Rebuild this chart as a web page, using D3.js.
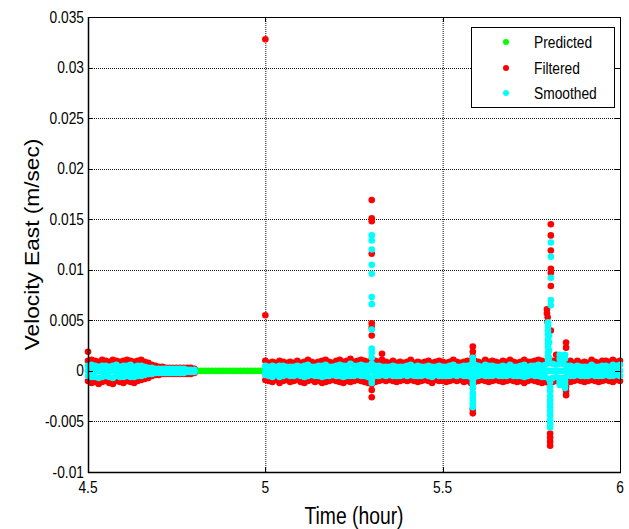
<!DOCTYPE html>
<html>
<head>
<meta charset="utf-8">
<script src="https://cdn.jsdelivr.net/npm/d3@7"></script>
<style>
  html, body { margin: 0; padding: 0; background: #fff; }
  svg { display: block; font-family: "Liberation Sans", Arial, sans-serif; }
</style>
</head>
<body>
<svg id="chart" width="629" height="529"></svg>
<script>
// ---------------- DATA ----------------
const xTicks = [4.5, 5, 5.5, 6];
const xTickLabels = ["4.5", "5", "5.5", "6"];
const yTicks = [-0.01, -0.005, 0, 0.005, 0.01, 0.015, 0.02, 0.025, 0.03, 0.035];
const yTickLabels = ["-0.01", "-0.005", "0", "0.005", "0.01", "0.015", "0.02", "0.025", "0.03", "0.035"];
const seriesNames = ["Predicted", "Filtered", "Smoothed"];
const seriesColors = ["#00ff00", "#ff0000", "#00ffff"];

// Predicted (only visible segment, 4.80 - 5.00 h)
const predTime = [4.80,4.81,4.82,4.83,4.84,4.85,4.86,4.87,4.88,4.89,4.90,4.91,4.92,4.93,4.94,4.95,4.96,4.97,4.98,4.99,5.00];
const predValue = [0,0,0,0,0,0,0,0,0,0,0,0,0,0,0,0,0,0,0,0,0];

// Segment A: 4.50 - 4.80 h
const timeA = [4.50,4.51,4.52,4.53,4.54,4.55,4.56,4.57,4.58,4.59,4.60,4.61,4.62,4.63,4.64,4.65,4.66,4.67,4.68,4.69,4.70,4.71,4.72,4.73,4.74,4.75,4.76,4.77,4.78,4.79,4.80];
const filtHiA = [0.0010,0.0011,0.0010,0.0009,0.0011,0.0010,0.0009,0.0011,0.0010,0.0009,0.0010,0.0011,0.0010,0.0009,0.0010,0.0011,0.0009,0.0008,0.0006,0.0005,0.0004,0.0004,0.0003,0.0003,0.0003,0.0003,0.0003,0.0003,0.0003,0.0003,0.0002];
const filtLoA = [-0.0010,-0.0012,-0.0011,-0.0013,-0.0011,-0.0010,-0.0012,-0.0013,-0.0010,-0.0011,-0.0012,-0.0010,-0.0011,-0.0012,-0.0010,-0.0009,-0.0008,-0.0007,-0.0005,-0.0004,-0.0004,-0.0003,-0.0003,-0.0003,-0.0003,-0.0003,-0.0003,-0.0003,-0.0003,-0.0003,-0.0002];
const smoHiA = [0.0005,0.0006,0.0005,0.0004,0.0005,0.0005,0.0004,0.0005,0.0006,0.0004,0.0005,0.0005,0.0006,0.0004,0.0005,0.0005,0.0004,0.0003,0.0003,0.0002,0.0002,0.0002,0.0002,0.0002,0.0002,0.0002,0.0002,0.0002,0.0001,0.0001,0.0001];
const smoMidA = [0,0,0,0,0,0,0,0,0,0,0,0,0,0,0,0,0,0,0,0,0,0,0,0,0,0,0,0,0,0,0];
const smoLoA = [-0.0005,-0.0006,-0.0006,-0.0007,-0.0006,-0.0005,-0.0006,-0.0007,-0.0005,-0.0006,-0.0006,-0.0005,-0.0006,-0.0006,-0.0005,-0.0005,-0.0004,-0.0003,-0.0003,-0.0002,-0.0002,-0.0002,-0.0002,-0.0002,-0.0002,-0.0002,-0.0002,-0.0002,-0.0001,-0.0001,-0.0001];

// Segment B: 5.00 - 6.00 h
const timeB = [5.00,5.01,5.02,5.03,5.04,5.05,5.06,5.07,5.08,5.09,5.10,5.11,5.12,5.13,5.14,5.15,5.16,5.17,5.18,5.19,5.20,5.21,5.22,5.23,5.24,5.25,5.26,5.27,5.28,5.29,5.30,5.31,5.32,5.33,5.34,5.35,5.36,5.37,5.38,5.39,5.40,5.41,5.42,5.43,5.44,5.45,5.46,5.47,5.48,5.49,5.50,5.51,5.52,5.53,5.54,5.55,5.56,5.57,5.58,5.59,5.60,5.61,5.62,5.63,5.64,5.65,5.66,5.67,5.68,5.69,5.70,5.71,5.72,5.73,5.74,5.75,5.76,5.77,5.78,5.79,5.80,5.81,5.82,5.83,5.84,5.85,5.86,5.87,5.88,5.89,5.90,5.91,5.92,5.93,5.94,5.95,5.96,5.97,5.98,5.99,6.00];
const filtHiB = [0.0010,0.0008,0.0009,0.0008,0.0010,0.0009,0.0008,0.0009,0.0008,0.0010,
                 0.0008,0.0009,0.0011,0.0009,0.0008,0.0009,0.0010,0.0011,0.0009,0.0008,
                 0.0010,0.0011,0.0009,0.0010,0.0012,0.0009,0.0010,0.0011,0.0010,0.0009,
                 0.0011,0.0010,0.0009,0.0008,0.0009,0.0008,0.0010,0.0008,0.0009,0.0008,
                 0.0009,0.0011,0.0008,0.0009,0.0008,0.0009,0.0010,0.0008,0.0009,0.0010,
                 0.0009,0.0008,0.0009,0.0011,0.0009,0.0008,0.0009,0.0010,0.0009,0.0010,
                 0.0009,0.0008,0.0011,0.0009,0.0010,0.0009,0.0008,0.0010,0.0009,0.0011,
                 0.0009,0.0008,0.0009,0.0011,0.0009,0.0009,0.0010,0.0011,0.0010,0.0009,
                 0.0011,0.0010,0.0010,0.0009,0.0012,0.0009,0.0010,0.0008,0.0010,0.0008,
                 0.0009,0.0008,0.0011,0.0009,0.0008,0.0010,0.0010,0.0009,0.0011,0.0009,
                 0.0010];
const filtLoB = [-0.0009,-0.0010,-0.0011,-0.0009,-0.0012,-0.0010,-0.0009,-0.0011,-0.0010,-0.0009,
                 -0.0011,-0.0012,-0.0010,-0.0009,-0.0011,-0.0010,-0.0012,-0.0011,-0.0010,-0.0009,
                 -0.0010,-0.0011,-0.0012,-0.0010,-0.0011,-0.0010,-0.0009,-0.0010,-0.0011,-0.0012,
                 -0.0011,-0.0011,-0.0010,-0.0009,-0.0010,-0.0009,-0.0010,-0.0011,-0.0010,-0.0009,
                 -0.0010,-0.0009,-0.0010,-0.0011,-0.0010,-0.0009,-0.0010,-0.0012,-0.0009,-0.0010,
                 -0.0010,-0.0011,-0.0010,-0.0009,-0.0010,-0.0009,-0.0011,-0.0010,-0.0012,-0.0011,
                 -0.0010,-0.0009,-0.0010,-0.0011,-0.0010,-0.0009,-0.0010,-0.0011,-0.0010,-0.0009,
                 -0.0010,-0.0011,-0.0010,-0.0012,-0.0010,-0.0009,-0.0010,-0.0011,-0.0012,-0.0011,
                 -0.0012,-0.0011,-0.0010,-0.0011,-0.0012,-0.0010,-0.0011,-0.0010,-0.0009,-0.0010,
                 -0.0011,-0.0010,-0.0009,-0.0010,-0.0011,-0.0010,-0.0009,-0.0010,-0.0011,-0.0009,
                 -0.0010];
const smoHiB = [0.0005,0.0004,0.0005,0.0004,0.0005,0.0005,0.0004,0.0004,0.0004,0.0005,
                0.0004,0.0005,0.0006,0.0004,0.0004,0.0005,0.0005,0.0006,0.0004,0.0004,
                0.0005,0.0006,0.0005,0.0005,0.0007,0.0005,0.0005,0.0006,0.0005,0.0005,
                0.0007,0.0005,0.0005,0.0004,0.0004,0.0004,0.0005,0.0004,0.0004,0.0004,
                0.0005,0.0006,0.0004,0.0005,0.0004,0.0004,0.0005,0.0004,0.0004,0.0005,
                0.0004,0.0004,0.0005,0.0006,0.0004,0.0004,0.0005,0.0005,0.0006,0.0006,
                0.0005,0.0004,0.0006,0.0005,0.0005,0.0004,0.0004,0.0005,0.0004,0.0006,
                0.0004,0.0004,0.0005,0.0006,0.0004,0.0005,0.0005,0.0006,0.0005,0.0006,
                0.0008,0.0007,0.0006,0.0007,0.0007,0.0005,0.0005,0.0004,0.0005,0.0004,
                0.0004,0.0004,0.0006,0.0004,0.0004,0.0005,0.0005,0.0004,0.0006,0.0005,
                0.0006];
const smoMidB = [0,0,0,0,0,0,0,0,0,0, 0,0,0,0,0,0,0,0,0,0, 0,0,0,0,0,0,0,0,0,0, 0,0,0,0,0,0,0,0,0,0, 0,0,0,0,0,0,0,0,0,0,
                 0,0,0,0,0,0,0,0,0,0, 0,0,0,0,0,0,0,0,0,0, 0,0,0,0,0,0,0,0,0,0, 0,0,0,0,0,0,0,0,0,0, 0,0,0,0,0,0,0,0,0,0, 0];
const smoLoB = [-0.0004,-0.0005,-0.0006,-0.0004,-0.0006,-0.0005,-0.0004,-0.0005,-0.0005,-0.0004,
                -0.0005,-0.0006,-0.0005,-0.0004,-0.0005,-0.0005,-0.0006,-0.0005,-0.0005,-0.0004,
                -0.0005,-0.0005,-0.0006,-0.0005,-0.0005,-0.0005,-0.0004,-0.0005,-0.0005,-0.0006,
                -0.0007,-0.0005,-0.0005,-0.0004,-0.0005,-0.0004,-0.0005,-0.0005,-0.0005,-0.0004,
                -0.0005,-0.0004,-0.0005,-0.0005,-0.0005,-0.0004,-0.0005,-0.0006,-0.0004,-0.0005,
                -0.0005,-0.0005,-0.0005,-0.0004,-0.0005,-0.0004,-0.0005,-0.0005,-0.0006,-0.0006,
                -0.0005,-0.0004,-0.0005,-0.0005,-0.0005,-0.0004,-0.0005,-0.0005,-0.0005,-0.0004,
                -0.0005,-0.0005,-0.0005,-0.0006,-0.0005,-0.0004,-0.0005,-0.0005,-0.0006,-0.0006,
                -0.0008,-0.0007,-0.0006,-0.0007,-0.0007,-0.0005,-0.0005,-0.0005,-0.0004,-0.0005,
                -0.0005,-0.0005,-0.0004,-0.0005,-0.0005,-0.0005,-0.0004,-0.0005,-0.0005,-0.0004,
                -0.0005];

// Isolated / spike points
const filtSpikeTime = [4.50, 5.00, 5.00,
  5.30, 5.30, 5.30, 5.30, 5.30, 5.30, 5.30, 5.30, 5.30, 5.30,
  5.329, 5.329,
  5.585, 5.585, 5.585, 5.585, 5.585,
  5.805, 5.805, 5.805, 5.805, 5.805, 5.805, 5.794, 5.794, 5.796, 5.796, 5.805,
  5.803, 5.803, 5.803, 5.803,
  5.82, 5.848, 5.848, 5.848, 5.848, 5.848];
const filtSpikeValue = [0.0019, 0.0328, 0.0055,
  0.0169, 0.0151, 0.0148, 0.0116, 0.0047, 0.0043, 0.0035, -0.0013, -0.0019, -0.0026,
  0.0017, 0.0011,
  0.0024, 0.0019, 0.0014, -0.0038, -0.0042,
  0.0145, 0.0134, 0.0119, 0.0101, 0.0097, 0.0084, 0.0061, 0.0057, 0.0053, 0.0048, 0.0040,
  -0.0062, -0.0066, -0.0070, -0.0074,
  0.0016, 0.0028, 0.0023, -0.0016, -0.0020, -0.0024];

const smoSpikeTime = [5.30, 5.30, 5.30, 5.30, 5.30, 5.30, 5.30, 5.30, 5.30, 5.30, 5.30, 5.30, 5.30,
  5.585, 5.585, 5.585, 5.585, 5.585, 5.585, 5.585, 5.585, 5.585, 5.585,
  5.805, 5.805, 5.805, 5.805, 5.805,
  5.797, 5.797, 5.797, 5.797, 5.797, 5.797, 5.797, 5.797, 5.797, 5.797,
  5.800, 5.800, 5.800, 5.800,
  5.803, 5.803, 5.803, 5.803, 5.803, 5.803, 5.803, 5.803, 5.803, 5.803, 5.803, 5.803,
  5.83, 5.83, 5.83, 5.83, 5.83,
  5.845, 5.845, 5.845, 5.845, 5.845];
const smoSpikeValue = [0.0134, 0.0129, 0.0120, 0.0105, 0.0096, 0.0073, 0.0066, 0.0041, 0.0022, 0.0018, 0.0013, -0.0012, -0.0009,
  0.0013, 0.0010, -0.0010, -0.0013, -0.0017, -0.0022, -0.0026, -0.0029, -0.0033, -0.0036,
  0.0127, 0.0113, 0.0092, 0.0070, 0.0065,
  0.0048, 0.0044, 0.0040, 0.0036, 0.0031, 0.0027, 0.0023, 0.0018, 0.0014, 0.0011,
  0.0035, 0.0028, 0.0020, 0.0013,
  -0.0011, -0.0016, -0.0020, -0.0025, -0.0029, -0.0033, -0.0036, -0.0040, -0.0044, -0.0049, -0.0053, -0.0056,
  0.0016, 0.0012, -0.0010, -0.0012, -0.0014,
  0.0016, 0.0012, -0.0010, -0.0013, -0.0017];

// ---------------- CHART ----------------
const svg = d3.select("#chart");
const L = 88, R = 620, T = 17, B = 472;
const x = d3.scaleLinear().domain([4.5, 6]).range([L, R]);
const y = d3.scaleLinear().domain([-0.01, 0.035]).range([B, T]);
const RAD = 3.3;
const font = "'Liberation Sans', Arial, sans-serif";

// grid
const grid = svg.append("g");
grid.selectAll("line.gx").data(xTicks.filter(t => t > 4.5 && t < 6)).enter().append("line")
  .attr("x1", d => x(d) + 0.5).attr("x2", d => x(d) + 0.5)
  .attr("y1", T).attr("y2", B)
  .attr("stroke", "#111").attr("stroke-width", 1).attr("stroke-dasharray", "1,1");
grid.selectAll("line.gy").data(yTicks.filter(t => t > -0.01 && t < 0.035)).enter().append("line")
  .attr("y1", d => Math.round(y(d)) + 0.5).attr("y2", d => Math.round(y(d)) + 0.5)
  .attr("x1", L).attr("x2", R)
  .attr("stroke", "#111").attr("stroke-width", 1).attr("stroke-dasharray", "1,1");

function pts(times, vals) { return times.map((t, i) => [t, vals[i]]); }

const plot = svg.append("g");
function drawDots(data, color) {
  plot.append("g").selectAll("circle").data(data).enter().append("circle")
    .attr("cx", d => x(d[0])).attr("cy", d => y(d[1])).attr("r", RAD)
    .attr("fill", color);
}

// Predicted
drawDots(pts(predTime, predValue), seriesColors[0]);
// Filtered
drawDots([].concat(pts(timeA, filtHiA), pts(timeA, filtLoA), pts(timeB, filtHiB), pts(timeB, filtLoB),
  pts(filtSpikeTime, filtSpikeValue)), seriesColors[1]);
// Smoothed
drawDots([].concat(pts(timeA, smoHiA), pts(timeA, smoLoA), pts(timeA, smoMidA),
  pts(timeB, smoHiB), pts(timeB, smoLoB), pts(timeB, smoMidB),
  pts(smoSpikeTime, smoSpikeValue)), seriesColors[2]);

// axes box and ticks
const ax = svg.append("g");
ax.append("rect").attr("x", L + 0.5).attr("y", T + 0.5).attr("width", R - L).attr("height", B - T)
  .attr("fill", "none").attr("stroke", "#000").attr("stroke-width", 1);
const tl = 5;
xTicks.forEach(t => {
  const px = Math.round(x(t)) + 0.5;
  ax.append("line").attr("x1", px).attr("x2", px).attr("y1", B).attr("y2", B - tl).attr("stroke", "#000");
  ax.append("line").attr("x1", px).attr("x2", px).attr("y1", T).attr("y2", T + tl).attr("stroke", "#000");
});
yTicks.forEach(t => {
  const py = Math.round(y(t)) + 0.5;
  ax.append("line").attr("x1", L).attr("x2", L + tl).attr("y1", py).attr("y2", py).attr("stroke", "#000");
  ax.append("line").attr("x1", R).attr("x2", R - tl).attr("y1", py).attr("y2", py).attr("stroke", "#000");
});
ax.append("line").attr("x1", L + 0.5).attr("x2", L + 0.5).attr("y1", T).attr("y2", B + 1).attr("stroke", "#000").attr("stroke-width", 1.5);
ax.append("line").attr("x1", L).attr("x2", R + 1).attr("y1", B + 0.5).attr("y2", B + 0.5).attr("stroke", "#000").attr("stroke-width", 1.5);

// tick labels (slightly tall, narrow glyphs as in reference)
svg.append("g").selectAll("text").data(xTicks).enter().append("text")
  .attr("transform", d => `translate(${x(d)},${B + 21}) scale(0.95,1.1)`)
  .attr("text-anchor", "middle").attr("font-family", font).attr("font-size", 14.5).attr("fill", "#000")
  .text((d, i) => xTickLabels[i]);
svg.append("g").selectAll("text").data(yTicks).enter().append("text")
  .attr("transform", d => `translate(${L - 4},${y(d) + 5.5}) scale(0.95,1.1)`)
  .attr("text-anchor", "end").attr("font-family", font).attr("font-size", 14.5).attr("fill", "#000")
  .text((d, i) => yTickLabels[i]);

// axis titles
svg.append("text").attr("transform", `translate(${(L + R) / 2},524) scale(0.92,1.15)`)
  .attr("text-anchor", "middle").attr("font-family", font).attr("font-size", 21).attr("fill", "#000")
  .text("Time (hour)");
svg.append("text").attr("transform", `translate(39,${(T + B) / 2}) rotate(-90) scale(1.08,1.0)`)
  .attr("text-anchor", "middle").attr("font-family", font).attr("font-size", 21).attr("fill", "#000")
  .text("Velocity East (m/sec)");

// legend
const lg = svg.append("g");
lg.append("rect").attr("x", 471.5).attr("y", 27.5).attr("width", 143).attr("height", 80)
  .attr("fill", "#fff").attr("stroke", "#000").attr("stroke-width", 1);
const rowY = [42, 68, 93];
seriesNames.forEach((name, i) => {
  lg.append("circle").attr("cx", 506).attr("cy", rowY[i]).attr("r", 3).attr("fill", seriesColors[i]);
  lg.append("text").attr("transform", `translate(534,${rowY[i] + 5.5}) scale(0.95,1.1)`)
    .attr("font-family", font).attr("font-size", 14.5).attr("fill", "#000").text(name);
});
</script>
</body>
</html>
